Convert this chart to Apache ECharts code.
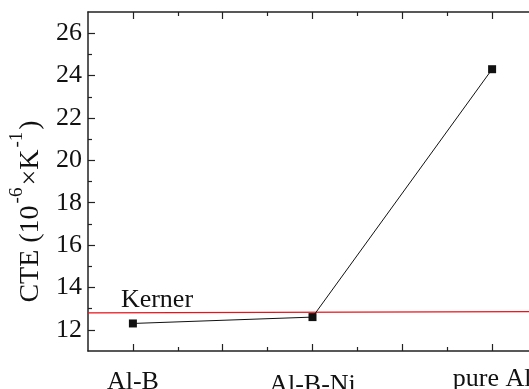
<!DOCTYPE html>
<html>
<head>
<meta charset="utf-8">
<script src="https://cdn.jsdelivr.net/npm/echarts@6/dist/echarts.min.js"></script>
<style>html,body{margin:0;padding:0;background:#fff}#c{width:529px;height:389px}</style>
</head>
<body>
<div id="c"></div>
<script>
// ---- data ----
const categories = ['Al-B', 'Al-B-Ni', 'pure Al'];
const categoryPositions = [1, 2, 3];
const cteValues = [12.3, 12.6, 24.3];
const kernerX = [0.75, 3.25];
const kernerValues = [12.8, 12.86];
const kernerLabel = 'Kerner';
const kernerLabelPos = [1.134, 13.38];
const yTickValues = [12, 14, 16, 18, 20, 22, 24, 26];
const yMinorTickValues = [13, 15, 17, 19, 21, 23, 25];
const xMajorTickValues = [1, 1.5, 2, 2.5, 3];
const xMinorTickValues = [1.25, 1.75, 2.25, 2.75];

const FONT = '"Liberation Serif", "Times New Roman", serif';
const AXIS_COLOR = '#222';

const chart = echarts.init(document.getElementById('c'), null, {renderer: 'canvas'});

function xAx(position, ticks, len, showLine, showLabel) {
  return {
    type: 'value', position: position, min: 0.75, max: 3.25,
    axisLine: {show: showLine, onZero: false, lineStyle: {color: AXIS_COLOR, width: 1.5}},
    axisTick: {show: true, inside: true, length: len, customValues: ticks, lineStyle: {color: AXIS_COLOR, width: 1.2}},
    axisLabel: showLabel ? {
      show: true, customValues: categoryPositions, margin: 14,
      fontFamily: FONT, fontSize: 26, color: '#111',
      formatter: function (v) {
        const i = categoryPositions.indexOf(Math.round(v));
        return '{s' + i + '|' + categories[i] + '}';
      },
      rich: {
        s0: {fontFamily: FONT, fontSize: 26, color: '#111', padding: [4, 0, 0, 0]},
        s1: {fontFamily: FONT, fontSize: 26, color: '#111', padding: [7, 0, 0, 0]},
        s2: {fontFamily: FONT, fontSize: 26, color: '#111', padding: [1, 0, 0, 0]}
      }
    } : {show: false},
    splitLine: {show: false}
  };
}
function yAx(ticks, len, showLine, showLabel, withName) {
  const ax = {
    type: 'value', position: 'left', min: 11, max: 27,
    axisLine: {show: showLine, onZero: false, lineStyle: {color: AXIS_COLOR, width: 1.5}},
    axisTick: {show: true, inside: true, length: len, customValues: ticks, lineStyle: {color: AXIS_COLOR, width: 1.2}},
    axisLabel: showLabel ? {show: true, customValues: yTickValues, margin: 6, fontFamily: FONT, fontSize: 26, color: '#111'} : {show: false},
    splitLine: {show: false}
  };
  if (withName) {
    ax.name = '{m|CTE (10}{s|-6}{m|×K}{s|-1}{m|)}';
    ax.nameLocation = 'middle';
    ax.nameRotate = 90;
    ax.nameGap = 39;
    ax.nameTextStyle = {
      fontFamily: FONT, fontSize: 28, color: '#111',
      padding: [0, 60, 0, 0],
      rich: {
        m: {fontFamily: FONT, fontSize: 28, color: '#111', lineHeight: 30, verticalAlign: 'bottom'},
        s: {fontFamily: FONT, fontSize: 19, color: '#111', lineHeight: 19, verticalAlign: 'bottom', padding: [0, 2, 19, 2]}
      }
    };
  }
  return ax;
}

chart.setOption({
  animation: false,
  backgroundColor: '#fff',
  grid: {left: 88, top: 12, right: -8, bottom: 38, outerBoundsMode: 'none', containLabel: false},
  xAxis: [
    xAx('bottom', xMajorTickValues, 7, true, true),
    xAx('bottom', xMinorTickValues, 4, false, false),
    xAx('top', xMajorTickValues, 7, true, false),
    xAx('top', xMinorTickValues, 4, false, false)
  ],
  yAxis: [
    yAx(yTickValues, 7, true, true, true),
    yAx(yMinorTickValues, 4, false, false, false)
  ],
  series: [
    {
      type: 'line', xAxisIndex: 0, yAxisIndex: 0,
      data: kernerX.map((x, i) => [x, kernerValues[i]]),
      showSymbol: false, symbol: 'none',
      lineStyle: {color: '#e8141b', width: 1.2},
      markPoint: {
        symbol: 'circle', symbolSize: 0,
        data: [{coord: kernerLabelPos, value: kernerLabel}],
        label: {show: true, position: 'inside', formatter: kernerLabel, fontFamily: FONT, fontSize: 26, color: '#111'}
      },
      z: 2
    },
    {
      type: 'line', xAxisIndex: 0, yAxisIndex: 0,
      data: categoryPositions.map((x, i) => [x, cteValues[i]]),
      symbol: 'rect', symbolSize: 8,
      itemStyle: {color: '#111'},
      lineStyle: {color: '#111', width: 1},
      z: 3
    }
  ]
});
</script>
</body>
</html>
